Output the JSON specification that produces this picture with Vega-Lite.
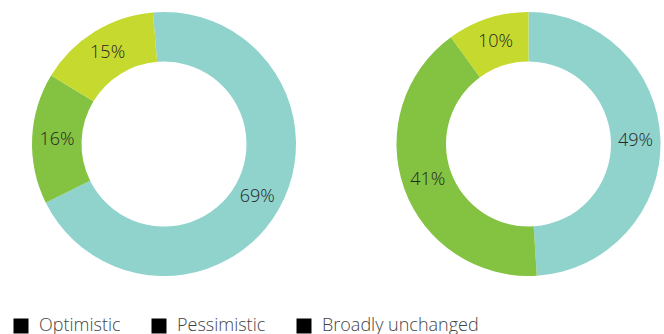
{
  "$schema": "https://vega.github.io/schema/vega-lite/v6.json",
  "padding": 0,
  "spacing": 65,
  "background": "white",
  "datasets": {
    "left": [
      {"category": "Optimistic", "value": 0.69, "rank": 1},
      {"category": "Pessimistic", "value": 0.16, "rank": 2},
      {"category": "Broadly unchanged", "value": 0.15, "rank": 3}
    ],
    "right": [
      {"category": "Optimistic", "value": 0.49, "rank": 1},
      {"category": "Pessimistic", "value": 0.41, "rank": 2},
      {"category": "Broadly unchanged", "value": 0.10, "rank": 3}
    ]
  },
  "hconcat": [
    {
      "width": 328,
      "height": 288,
      "data": {"name": "left"},
      "encoding": {
        "theta": {"field": "value", "type": "quantitative", "stack": true, "scale": {"range": [-0.0838, 6.1994]}},
        "order": {"field": "rank", "type": "quantitative"}
      },
      "layer": [
        {
          "mark": {"type": "arc", "innerRadius": 82.5, "outerRadius": 132, "strokeOpacity": 0},
          "encoding": {
            "fill": {
              "field": "category", "type": "nominal",
              "scale": {"domain": ["Optimistic", "Pessimistic", "Broadly unchanged"], "range": ["#8fd3cc", "#84c241", "#c6d92e"]},
              "legend": null
            },
            "stroke": {
              "field": "category", "type": "nominal",
              "sort": ["Optimistic", "Pessimistic", "Broadly unchanged"],
              "scale": {"range": ["#000000", "#000000", "#000000"]},
              "legend": {
                "orient": "none", "legendX": 12, "legendY": 317, "direction": "horizontal", "title": null,
                "symbolType": "square", "symbolSize": 225, "symbolStrokeWidth": 0, "symbolFillColor": "#000000",
                "symbolOpacity": 1,
                "labelFontSize": 18, "labelColor": "#444", "labelFont": "Open Sans", "labelFontWeight": 300,
                "columnPadding": 29, "labelOffset": 9
              }
            }
          }
        },
        {
          "mark": {"type": "text", "radius": 107, "fontSize": 18, "font": "Open Sans", "fontWeight": 300, "fill": "#262626", "align": "center", "baseline": "middle"},
          "encoding": {"text": {"field": "value", "type": "quantitative", "format": ".0%"}}
        }
      ]
    },
    {
      "width": 271,
      "height": 288,
      "data": {"name": "right"},
      "encoding": {
        "theta": {"field": "value", "type": "quantitative", "stack": true, "scale": {"range": [0, 6.2832]}},
        "order": {"field": "rank", "type": "quantitative"}
      },
      "layer": [
        {
          "mark": {"type": "arc", "innerRadius": 82.5, "outerRadius": 132, "strokeOpacity": 0},
          "encoding": {
            "fill": {"field": "category", "type": "nominal", "legend": null},
            "stroke": {"field": "category", "type": "nominal", "sort": ["Optimistic", "Pessimistic", "Broadly unchanged"]}
          }
        },
        {
          "mark": {"type": "text", "radius": 107, "fontSize": 18, "font": "Open Sans", "fontWeight": 300, "fill": "#262626", "align": "center", "baseline": "middle"},
          "encoding": {"text": {"field": "value", "type": "quantitative", "format": ".0%"}}
        }
      ]
    }
  ],
  "resolve": {"scale": {"theta": "independent", "fill": "shared", "stroke": "shared"}, "legend": {"stroke": "shared"}},
  "config": {"view": {"stroke": null}, "font": "Open Sans"}
}
